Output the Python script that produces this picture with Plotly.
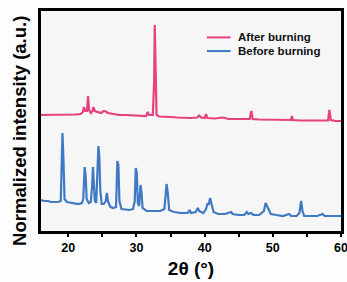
import plotly.graph_objects as go

# Before burning (blue) trace: 2theta (deg) and normalized intensity (a.u., offset)
before_x = [16.0, 16.5, 17.0, 17.5, 18.0, 18.5, 18.9, 19.05, 19.15, 19.3, 19.45, 19.8, 20.5, 21.0, 21.5, 22.0,
            22.2, 22.4, 22.55, 22.7, 23.0, 23.3, 23.5, 23.62, 23.75, 23.9, 24.1, 24.3, 24.42, 24.55, 24.7, 24.9,
            25.2, 25.5, 25.65, 25.85, 26.2, 26.6, 27.0, 27.1, 27.2, 27.35, 27.5, 27.8, 28.5, 29.0, 29.5, 29.75,
            29.9, 30.05, 30.2, 30.4, 30.6, 30.75, 30.9, 31.5, 32.5, 33.5, 34.1, 34.3, 34.42, 34.6, 34.8, 35.5,
            36.5, 37.5, 37.8, 38.0, 38.7, 39.0, 39.2, 39.8, 40.2, 40.45, 40.6, 40.8, 41.0, 41.3, 42.0, 43.0,
            43.9, 44.1, 45.0, 45.8, 46.2, 46.4, 46.8, 47.2, 48.0, 48.7, 48.95, 49.2, 49.4, 49.7, 50.5, 51.5,
            52.4, 52.7, 53.5, 53.9, 54.15, 54.35, 54.6, 55.5, 56.5, 57.3, 57.6, 58.5, 59.3, 60.0]
before_y = [31, 30, 30, 29, 29, 29, 30, 60, 98, 70, 32, 29, 28, 28, 27, 28,
            32, 64, 55, 32, 28, 29, 45, 64, 45, 30, 28, 60, 85, 75, 40, 27,
            27, 30, 38, 29, 24, 23, 24, 45, 70, 66, 30, 22, 21, 21, 22, 30,
            63, 58, 28, 25, 46, 38, 23, 20, 20, 20, 22, 40, 47, 38, 21, 19,
            18, 18, 21, 18, 19, 23, 20, 18, 22, 28, 26, 33, 26, 19, 17, 17,
            19, 17, 16, 16, 19, 17, 18, 16, 16, 20, 28, 24, 22, 17, 16, 15,
            17, 15, 15, 18, 30, 20, 15, 15, 15, 17, 15, 15, 15, 15]

# After burning (pink) trace
after_x = [16.0, 17.0, 18.0, 19.0, 20.0, 21.0, 21.8, 22.15, 22.3, 22.5, 22.75, 22.9, 23.05, 23.3, 23.55, 23.7,
           23.9, 24.3, 24.8, 25.2, 25.4, 25.8, 26.5, 27.5, 28.5, 29.5, 30.5, 31.4, 31.65, 31.85, 32.4, 32.6,
           32.68, 32.78, 32.95, 33.3, 34.0, 35.0, 36.0, 37.0, 38.0, 38.9, 39.2, 39.5, 40.0, 40.2, 40.4, 41.5,
           42.7, 43.5, 44.5, 45.5, 46.6, 46.85, 47.05, 48.0, 49.0, 50.0, 51.0, 52.0, 52.65, 52.8, 52.95, 54.0,
           55.0, 56.0, 57.0, 58.1, 58.3, 58.5, 59.2, 60.0]
after_y = [116, 116, 116, 116.5, 116, 116.5, 117, 119, 124, 120, 120, 135, 121, 118, 120, 124,
           120, 119, 118, 120, 120, 118, 117, 116, 116, 115.5, 115.5, 115, 119, 116, 116, 150,
           206, 150, 116, 114.5, 114, 114, 113.5, 113, 113, 113.5, 115.5, 113.5, 113, 117, 113, 112.5,
           113.5, 112, 112, 112, 112, 120, 112, 111.5, 111.5, 111, 111, 111, 111, 115, 111, 110.5,
           110.5, 110.5, 110.5, 110.5, 121, 111, 110, 110]

x_ticks = [20, 30, 40, 50, 60]
series_names = ["After burning", "Before burning"]
series_colors = ["#e8417f", "#3f79c4"]

fig = go.Figure()
fig.add_trace(go.Scatter(x=after_x, y=after_y, mode="lines", name=series_names[0],
                         line=dict(color=series_colors[0], width=2.2), showlegend=False))
fig.add_trace(go.Scatter(x=before_x, y=before_y, mode="lines", name=series_names[1],
                         line=dict(color=series_colors[1], width=2.2), showlegend=False))

# compact legend (tight row spacing as in the reference)
legend_rows = [0.880, 0.818]
for name, color, ly in zip(series_names, series_colors, legend_rows):
    fig.add_shape(type="line", xref="paper", yref="paper", x0=0.553, x1=0.632, y0=ly, y1=ly,
                  line=dict(color=color, width=2))
    fig.add_annotation(text=name, xref="paper", yref="paper", x=0.652, y=ly, xanchor="left",
                       yanchor="middle", showarrow=False, borderpad=0,
                       font=dict(size=11.5, family="Liberation Sans, Arial", weight="bold", color="#111"))

# y title placed as annotation so it can sit slightly low like the reference
fig.add_annotation(text="Normalized intensity (a.u.)", xref="paper", yref="paper", x=-0.07, y=0.455,
                   textangle=-90, xanchor="center", yanchor="middle", showarrow=False,
                   font=dict(size=18.5, family="Liberation Sans, Arial", weight="bold", color="black"))

fig.update_layout(
    width=347, height=282,
    margin=dict(l=41, r=6, t=11, b=51),
    paper_bgcolor="#fdfdfd", plot_bgcolor="#f6f6f6",
    font=dict(family="Liberation Sans, Arial", color="black"),
    showlegend=False,
)
fig.update_xaxes(range=[16, 60], tickvals=x_ticks, ticks="outside", ticklen=3, tickwidth=2,
                 tickcolor="black", showline=True, linecolor="black", linewidth=2.5, mirror=True,
                 showgrid=False, zeroline=False, automargin=False, ticklabeloverflow="allow",
                 tickfont=dict(size=12.5, weight="bold"),
                 minor=dict(tickvals=[25, 35, 45, 55], ticks="outside", ticklen=3, tickwidth=2, tickcolor="black"),
                 title=dict(text="2θ (°)", font=dict(size=19, weight="bold"), standoff=8))
fig.update_yaxes(range=[0, 220], showticklabels=False, ticks="", showline=True, linecolor="black",
                 linewidth=2.5, mirror=True, showgrid=False, zeroline=False, automargin=False)

# remove the browser's default body margin so the 347x282 figure fills the window exactly
fig.write_html("out.html", config={"displayModeBar": False},
               post_script="document.body.style.margin='0';document.body.style.overflow='hidden';")
